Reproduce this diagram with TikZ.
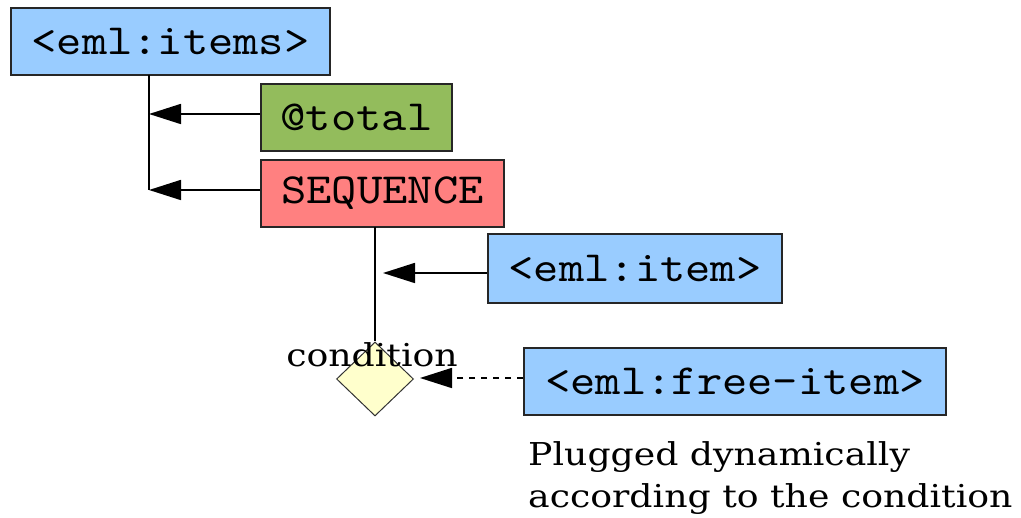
\documentclass[tikz,border=0pt]{standalone}
\usepackage{fontspec}
\setmainfont{DejaVu Serif}[FakeStretch=1.15]
\newfontfamily\monofont{lmmono10-regular.otf}[FakeStretch=1.12]
\usetikzlibrary{arrows.meta,shapes.geometric}
\definecolor{boxblue}{HTML}{99CCFF}
\definecolor{boxgreen}{HTML}{93BC5C}
\definecolor{boxred}{HTML}{FF8080}
\definecolor{diayellow}{HTML}{FFFFCC}
\tikzset{
  elem/.style={draw=black!85, line width=1.7pt, inner sep=0pt, font=\monofont\fontsize{43}{43}\selectfont, anchor=center},
  conn/.style={line width=1.7pt, -{Triangle[length=32pt,width=20pt]}},
  plain/.style={line width=1.7pt},
  note/.style={font=\fontsize{31.5}{43}\selectfont, inner sep=0pt, align=left}
}
\begin{document}
\begin{tikzpicture}[x=1pt,y=-1pt]
\useasboundingbox (0,0) rectangle (1021,518);
\node[elem, fill=boxblue, minimum width=319pt, minimum height=67pt] (items) at (170.5,41.5) {<eml:items>};
\node[elem, fill=boxgreen, minimum width=191pt, minimum height=67pt] (total) at (356.5,117.5) {@total};
\node[elem, fill=boxred, minimum width=243pt, minimum height=67pt] (seq) at (382.5,193.5) {SEQUENCE};
\node[elem, fill=boxblue, minimum width=294pt, minimum height=69pt] (item) at (635,268.5) {<eml:item>};
\node[elem, fill=boxblue, minimum width=422pt, minimum height=67pt] (free) at (735,381.5) {<eml:free-item>};
\node[diamond, draw=black!80, line width=1pt, fill=diayellow, inner sep=0pt, minimum width=77pt, minimum height=74pt] (cond) at (375,379) {};
\node[font=\fontsize{31.5}{31.5}\selectfont, inner sep=0pt, anchor=base] (condlbl) at (372,367) {condition};
\node[note, anchor=base west] (plug) at (528,508) {Plugged dynamically\\according to the condition};
% connectors
\coordinate (itemsdown) at (149,75);
\coordinate (jtotal) at (149,114);
\coordinate (jseq) at (149,190);
\coordinate (seqdown) at (375,227);
\coordinate (jitem) at (383,273);
\coordinate (jfree) at (420,378);
\draw[plain] (itemsdown) -- (jseq);
\draw[conn] (total.west |- jtotal) -- (jtotal);
\draw[conn] (seq.west |- jseq) -- (jseq);
\draw[plain] (seqdown) -- (cond.north);
\draw[conn] (item.west |- jitem) -- (jitem);
\draw[conn, dash pattern=on 6pt off 6pt] (free.west |- jfree) -- (jfree);
\end{tikzpicture}
\end{document}
